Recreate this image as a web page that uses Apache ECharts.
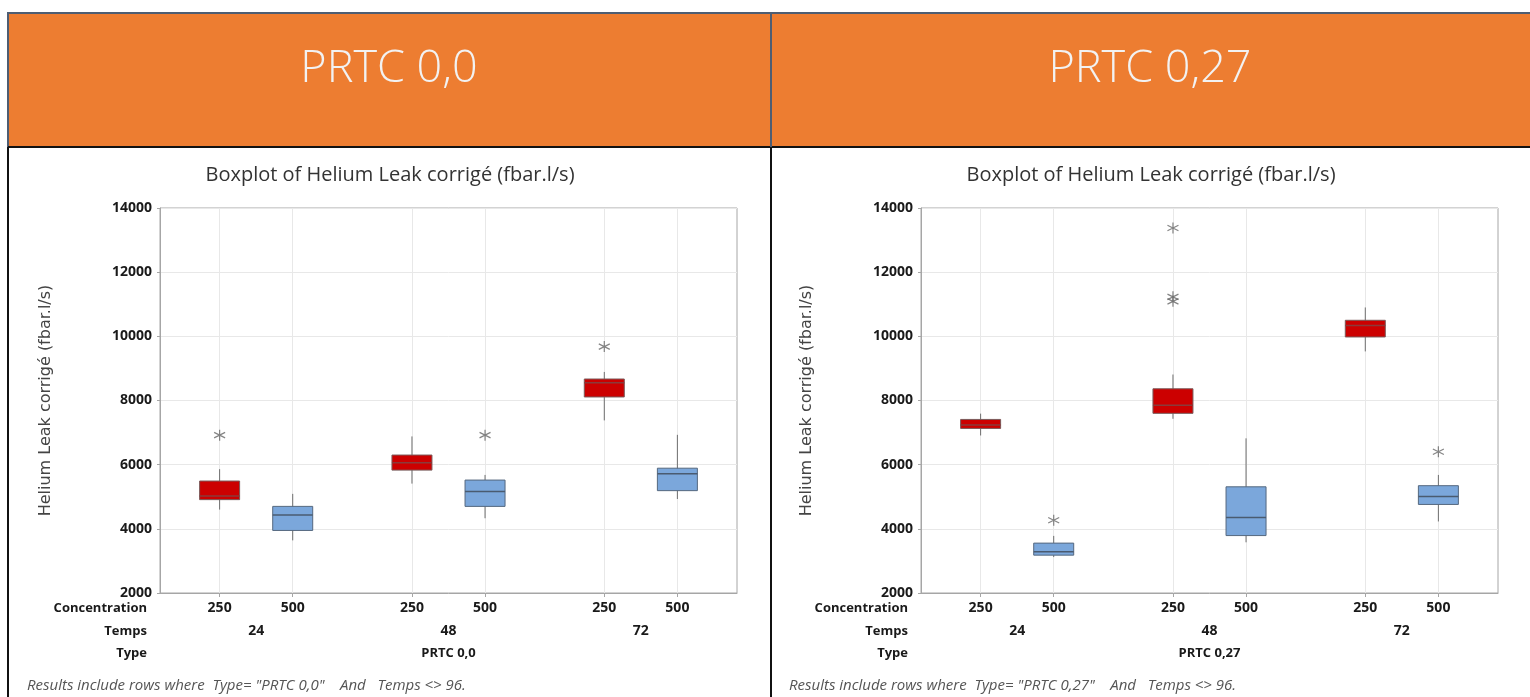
<!DOCTYPE html>
<html>
<head>
<meta charset="utf-8">
<script src="https://cdn.jsdelivr.net/npm/echarts@6/dist/echarts.min.js"></script>
<style>
html,body{margin:0;padding:0;background:#fff;}
#chart{width:1530px;height:697px;}
</style>
</head>
<body>
<div id="chart"></div>
<script>
// ---- data ----
const concentrations = ['250', '500'];
const temps = ['24', '48', '72'];
const types = ['PRTC 0,0', 'PRTC 0,27'];
const rowNames = ['Concentration', 'Temps', 'Type'];
const yTicks = [2000, 4000, 6000, 8000, 10000, 12000, 14000];
const chartTitle = 'Boxplot of Helium Leak corrigé (fbar.l/s)';
const yName = 'Helium Leak corrigé (fbar.l/s)';
const notes = [
  'Results include rows where  Type= "PRTC 0,0"    And   Temps <> 96.',
  'Results include rows where  Type= "PRTC 0,27"    And   Temps <> 96.'
];
// boxes: order 24/250, 24/500, 48/250, 48/500, 72/250, 72/500 ; [min, Q1, median, Q3, max]
const boxesPRTC00 = [
  [4600, 4910, 5020, 5490, 5860],
  [3640, 3950, 4430, 4700, 5090],
  [5410, 5830, 6060, 6300, 6880],
  [4330, 4700, 5160, 5520, 5680],
  [7380, 8110, 8550, 8670, 8890],
  [4930, 5190, 5720, 5890, 6930]
];
const boxesPRTC027 = [
  [6910, 7130, 7240, 7410, 7590],
  [3120, 3180, 3285, 3555, 3780],
  [7430, 7600, 7855, 8365, 8810],
  [3580, 3790, 4350, 5310, 6820],
  [9530, 9980, 10340, 10500, 10900],
  [4230, 4760, 5010, 5345, 5680]
];
// outliers: [box index, value]
const outliersPRTC00 = [[0, 6920], [3, 6920], [4, 9680]];
const outliersPRTC027 = [[1, 4270], [2, 13375], [2, 11230], [2, 11090], [5, 6400]];

// ---- layout / styles ----
const panelLeft = [160, 921];
const panelCenter = [390, 1151];
const gridTop = 208, gridW = 577, gridH = 385;
const off = 0.19;
function boxX(i) { const g = Math.floor(i / 2), c = i % 2; return g + 0.5 + (c === 0 ? -off : off); }
const boxXs = [0, 1, 2, 3, 4, 5].map(boxX);
const groupXs = temps.map((t, g) => g + 0.5);
const RED = '#CC0000', BLUE = '#7BA7DB';
const fontMain = '"Open Sans", "Noto Sans", sans-serif';
const labelStyle = {color: '#1a1a1a', fontFamily: fontMain, fontWeight: 'bold', fontSize: 13};
const tickStyle = {color: '#1a1a1a', fontFamily: fontMain, fontWeight: 'bold', fontSize: 14};

const chart = echarts.init(document.getElementById('chart'));

const grids = [], xAxes = [], yAxes = [], series = [];
[boxesPRTC00, boxesPRTC027].forEach((boxes, p) => {
  grids.push({left: panelLeft[p], top: gridTop, width: gridW, height: gridH, show: true,
    borderColor: '#A6A6A6', borderWidth: 1, backgroundColor: '#fff'});
  // main axis
  xAxes.push({type: 'value', gridIndex: p, min: 0, max: 3, position: 'bottom',
    axisLine: {show: true, lineStyle: {color: '#A6A6A6', width: 1}},
    axisTick: {show: true, length: 4, customValues: boxXs, lineStyle: {color: '#A6A6A6'}},
    axisLabel: {show: false, customValues: boxXs},
    splitLine: {show: true, customValues: boxXs, lineStyle: {color: '#E8E8E8', width: 1}}
  });
  // label rows
  const rows = [
    {vals: boxXs, fmt: (v) => concentrations[boxXs.findIndex(b => Math.abs(b - v) < 1e-6) % 2], offset: 15, st: tickStyle},
    {vals: groupXs, fmt: (v) => temps[groupXs.findIndex(b => Math.abs(b - v) < 1e-6)], offset: 38, st: tickStyle},
    {vals: [1.5], fmt: () => types[p], offset: 60, st: labelStyle}
  ];
  rows.forEach((r, k) => {
    xAxes.push({type: 'value', gridIndex: p, min: 0, max: 3, position: 'bottom', offset: r.offset,
      name: rowNames[k], nameLocation: 'start', nameGap: 13,
      nameTextStyle: Object.assign({align: 'right', verticalAlign: 'middle'}, labelStyle),
      axisLine: {show: false}, axisTick: {show: false}, splitLine: {show: false},
      axisLabel: Object.assign({show: true, customValues: r.vals, formatter: r.fmt, margin: 0, verticalAlign: 'middle'}, r.st)
    });
  });
  yAxes.push({type: 'value', gridIndex: p, min: 2000, max: 14000, interval: 2000,
    name: yName, nameLocation: 'middle', nameGap: 106,
    nameTextStyle: {color: '#444', fontFamily: '"DejaVu Sans", sans-serif', fontSize: 16},
    axisLine: {show: true, lineStyle: {color: '#A6A6A6'}},
    axisTick: {show: true, length: 3, lineStyle: {color: '#A6A6A6'}},
    axisLabel: Object.assign({margin: 8, formatter: (v) => String(v)}, tickStyle),
    splitLine: {show: true, lineStyle: {color: '#E8E8E8'}}
  });
  const xIdx = p * 4;
  series.push({
    type: 'custom', xAxisIndex: xIdx, yAxisIndex: p, z: 3,
    data: boxes.map((b, i) => [boxXs[i], b[0], b[1], b[2], b[3], b[4], i % 2]),
    renderItem: function (params, api) {
      const x = api.value(0);
      const lo = api.coord([x, api.value(1)]);
      const q1 = api.coord([x, api.value(2)]);
      const md = api.coord([x, api.value(3)]);
      const q3 = api.coord([x, api.value(4)]);
      const hi = api.coord([x, api.value(5)]);
      const isBlue = api.value(6) === 1;
      const hw = 20;
      const edge = isBlue ? '#55687f' : '#7a5a5a';
      return {type: 'group', children: [
        {type: 'line', shape: {x1: lo[0], y1: lo[1], x2: hi[0], y2: hi[1]}, style: {stroke: '#6e6e6e', lineWidth: 1}},
        {type: 'rect', shape: {x: q3[0] - hw, y: q3[1], width: 2 * hw, height: q1[1] - q3[1]},
          style: {fill: isBlue ? BLUE : RED, stroke: edge, lineWidth: 1}},
        {type: 'line', shape: {x1: md[0] - hw, y1: md[1], x2: md[0] + hw, y2: md[1]},
          style: {stroke: isBlue ? '#4a5b70' : '#8a3a3a', lineWidth: 1.5}}
      ]};
    }
  });
});
[outliersPRTC00, outliersPRTC027].forEach((outs, p) => {
  series.push({
    type: 'scatter', xAxisIndex: p * 4, yAxisIndex: p, z: 4,
    symbol: 'path://M5,0 L5,10 M0.67,2.5 L9.33,7.5 M0.67,7.5 L9.33,2.5',
    symbolSize: 11,
    itemStyle: {color: 'rgba(0,0,0,0)', borderColor: '#666', borderWidth: 1.2},
    data: outs.map(o => [boxXs[o[0]], o[1]])
  });
});

const graphics = [
  {type: 'rect', shape: {x: 8, y: 13, width: 1530, height: 134}, style: {fill: '#ED7D31', stroke: '#4E5D72', lineWidth: 2}, z: 0},
  {type: 'line', shape: {x1: 8, y1: 147, x2: 1530, y2: 147}, style: {stroke: '#111', lineWidth: 2}, z: 1},
  {type: 'line', shape: {x1: 771, y1: 13, x2: 771, y2: 147}, style: {stroke: '#4E5D72', lineWidth: 2}, z: 1},
  {type: 'line', shape: {x1: 771, y1: 147, x2: 771, y2: 697}, style: {stroke: '#111', lineWidth: 2}, z: 1},
  {type: 'line', shape: {x1: 8, y1: 147, x2: 8, y2: 697}, style: {stroke: '#111', lineWidth: 2}, z: 1}
];
types.forEach((t, p) => {
  graphics.push({type: 'text', z: 2, style: {text: t, x: panelCenter[p] - 1, y: 69, align: 'center', verticalAlign: 'middle',
    fill: '#F2F2F2', font: '300 45px "Open Sans", sans-serif'}});
  graphics.push({type: 'text', z: 2, style: {text: chartTitle, x: panelCenter[p], y: 175, align: 'center', verticalAlign: 'middle',
    fill: '#333', font: '20px "Open Sans", sans-serif'}});
  graphics.push({type: 'text', z: 2, style: {text: notes[p], x: [27, 789][p], y: 686, align: 'left', verticalAlign: 'middle',
    fill: '#555', font: 'italic 15px "Open Sans", sans-serif'}});
});

chart.setOption({
  animation: false,
  backgroundColor: '#fff',
  grid: grids,
  xAxis: xAxes,
  yAxis: yAxes,
  series: series,
  graphic: graphics
});
</script>
</body>
</html>
